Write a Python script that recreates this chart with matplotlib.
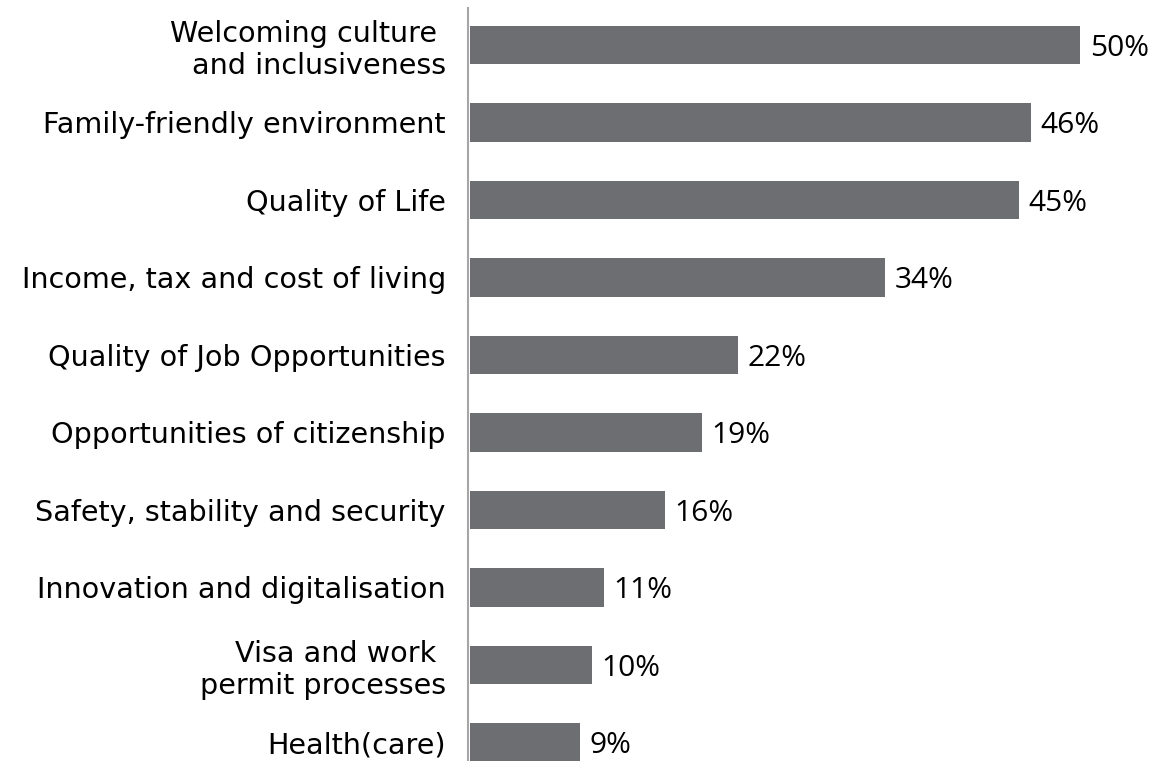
import matplotlib.pyplot as plt
from matplotlib import font_manager

categories = ["Welcoming culture \nand inclusiveness", "Family-friendly environment", "Quality of Life",
              "Income, tax and cost of living", "Quality of Job Opportunities",
              "Opportunities of citizenship", "Safety, stability and security",
              "Innovation and digitalisation", "Visa and work \npermit processes", "Health(care)"]
values = [50, 46, 45, 34, 22, 19, 16, 11, 10, 9]

names = {f.name for f in font_manager.fontManager.ttflist}
val_font = 'Liberation Sans Narrow' if 'Liberation Sans Narrow' in names else 'Open Sans'

fig = plt.figure(figsize=(11.75, 7.61), dpi=100)
ax = fig.add_axes([468/1175, 0, 1 - 468/1175, 1 - 8/761])

pos = list(range(len(values)))
ax.barh(pos, values, height=0.5, color='#6d6e71', left=0.15)
ax.set_xlim(0, 50 * (1175 - 468) / 610)
ax.set_ylim(9.24, -0.477)

for i, v in zip(pos, values):
    ax.text(v + 0.15 + 0.8, i + 0.04, f"{v}%", va='center', ha='left', fontsize=21.5,
            family=val_font, color='black')

ax.set_yticks(pos)
ax.set_yticklabels(categories, fontsize=20.6, family='DejaVu Sans', linespacing=1.2)
ax.tick_params(axis='y', length=0, pad=16)
ax.set_xticks([])
for s in ['top', 'right', 'bottom']:
    ax.spines[s].set_visible(False)
ax.spines['left'].set_color('#a6a6a6')
ax.spines['left'].set_linewidth(1.5)

fig.savefig('out.png', dpi=100)
